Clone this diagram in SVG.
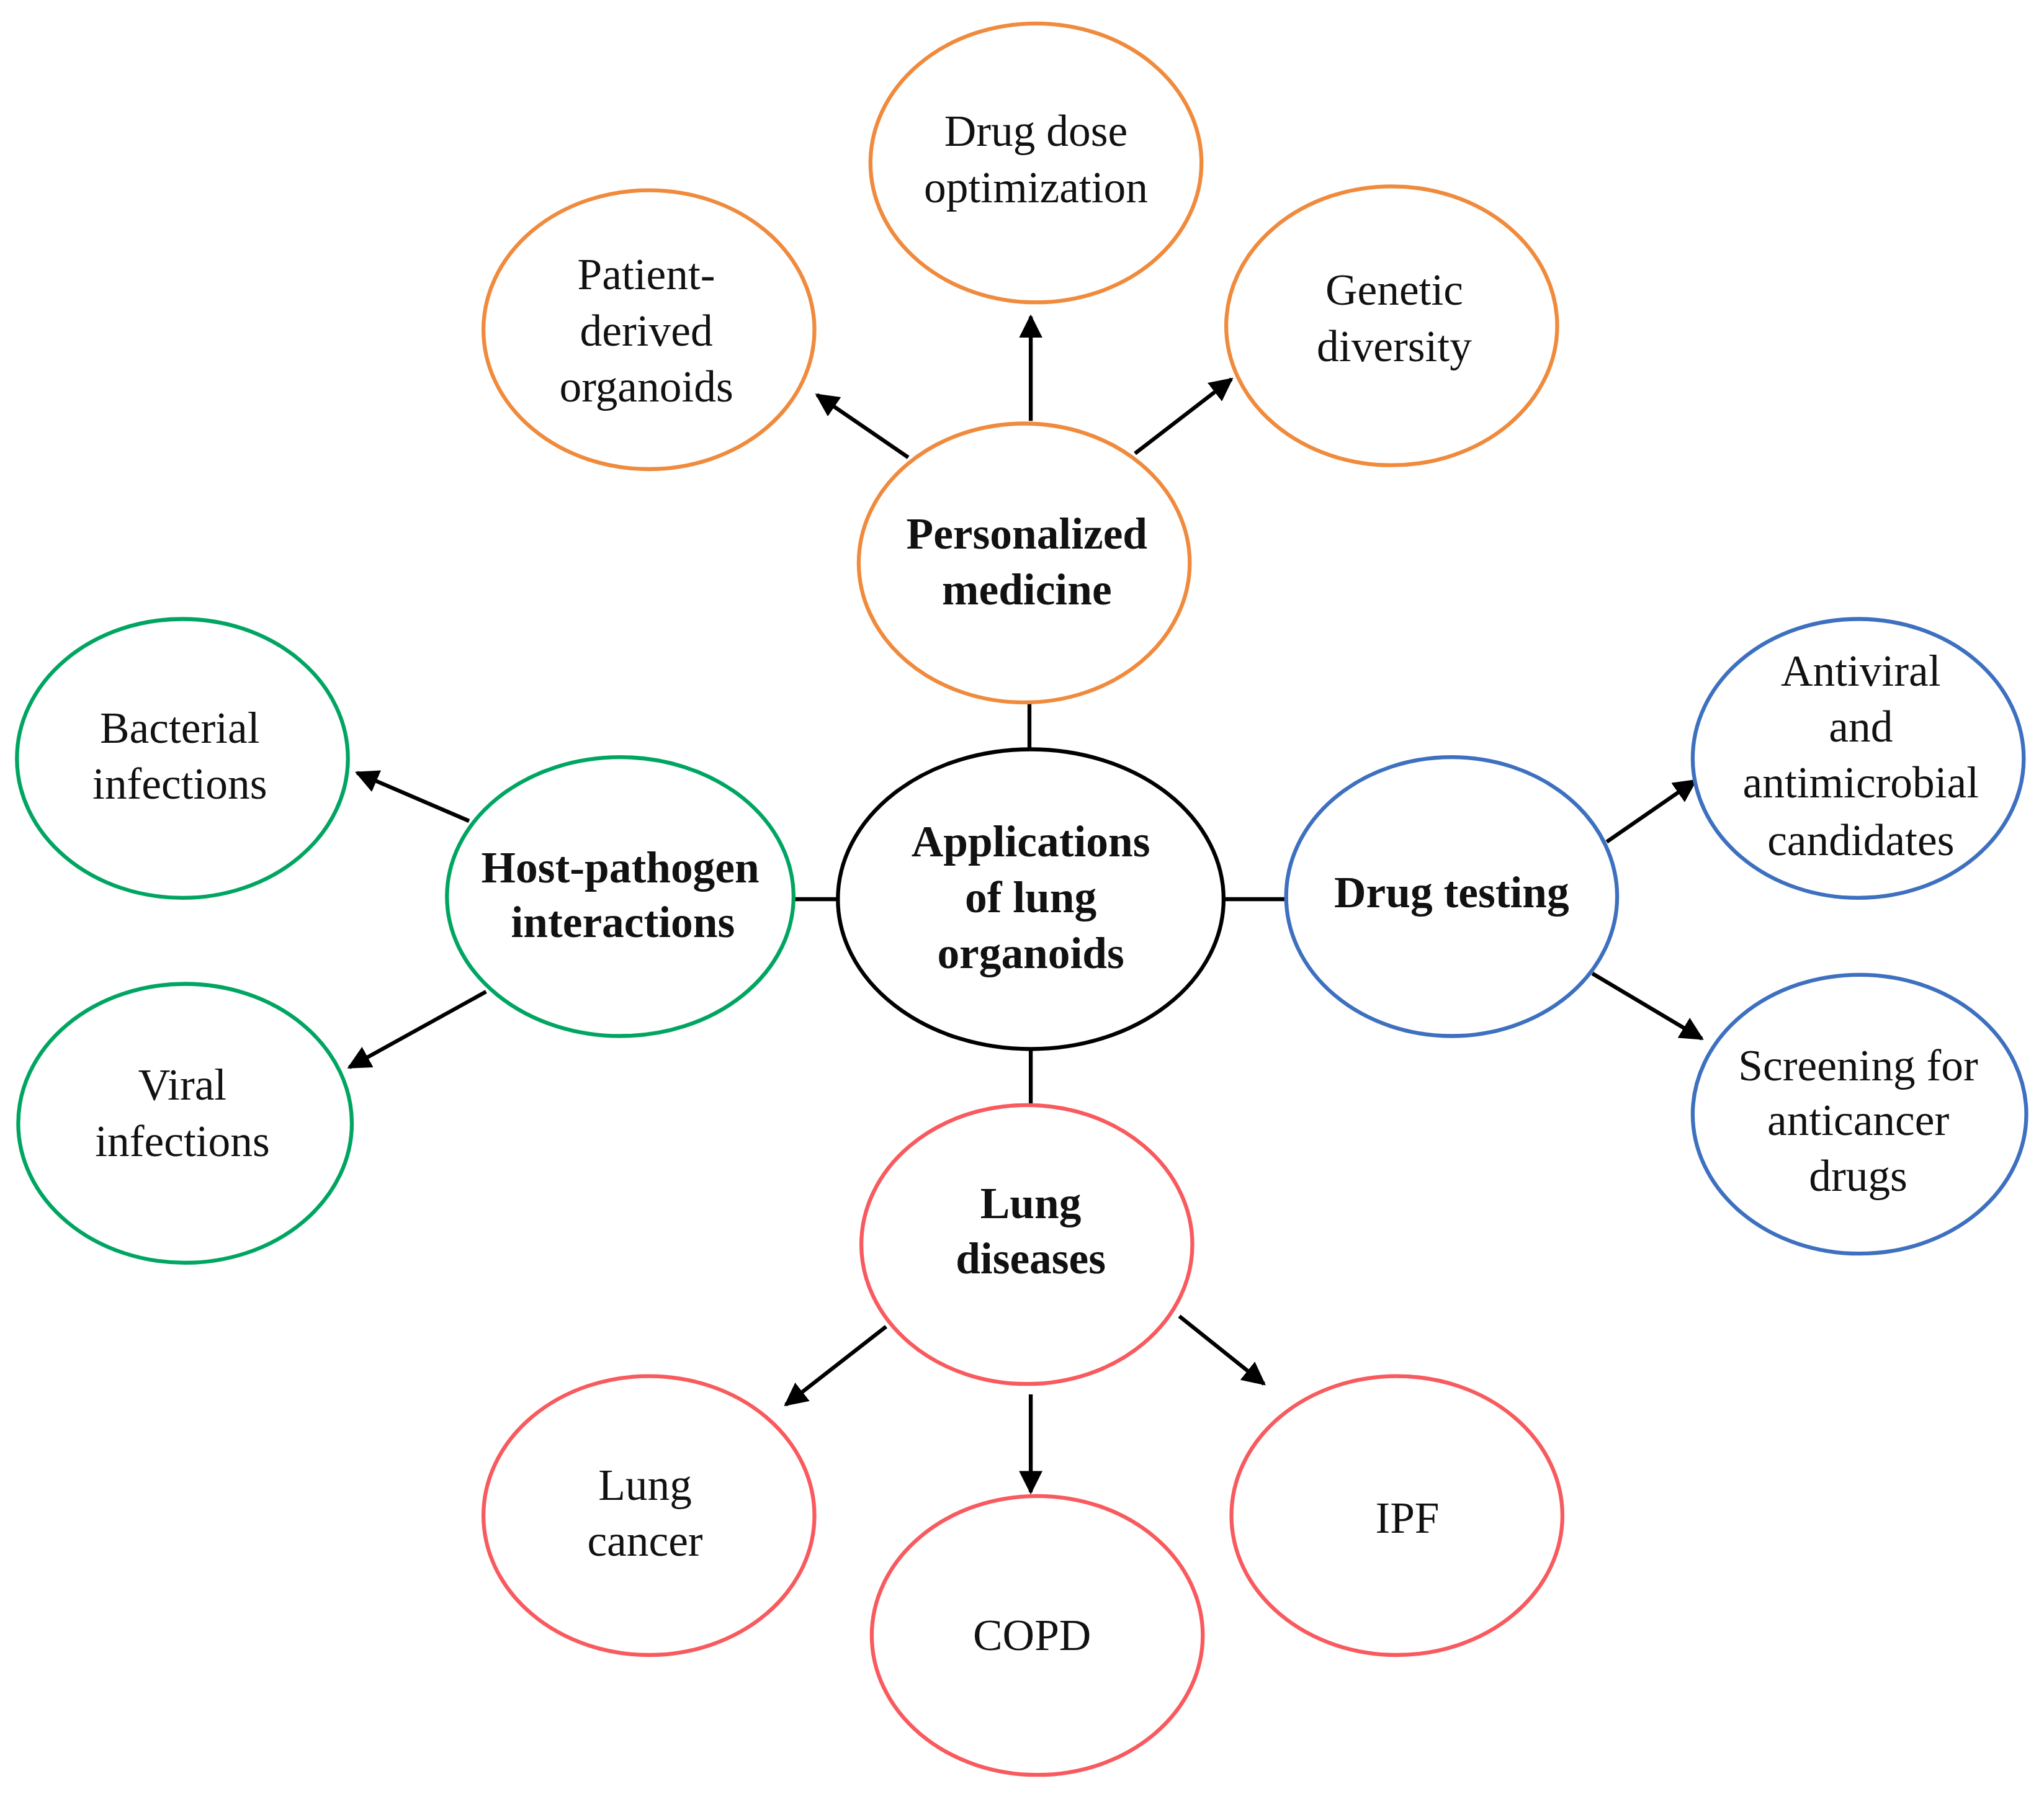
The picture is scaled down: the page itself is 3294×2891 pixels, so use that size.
<svg xmlns="http://www.w3.org/2000/svg" width="3294" height="2891" viewBox="0 0 3294 2891">
<style>
text{font-family:"Liberation Serif","DejaVu Serif",serif;font-size:34px;fill:#111;text-anchor:middle}
.b{font-weight:bold}
ellipse{fill:#fff;stroke-width:3}
.o{stroke:#F08A3C}.g{stroke:#00A562}.bl{stroke:#3E70C0}.r{stroke:#F85A5E}.k{stroke:#000}
line{stroke:#000;stroke-width:3}
</style>
<defs><marker id="a" viewBox="0 0 10 10" refX="9" refY="5" markerWidth="6" markerHeight="6" orient="auto"><path d="M0,0L10,5L0,10z" fill="#000"/></marker></defs>
<rect width="3294" height="2891" fill="#fff"/>
<g transform="scale(2.1)">
<g id="connectors">
<line x1="790" y1="575" x2="790" y2="540"/>
<line x1="643" y1="690" x2="610" y2="690"/>
<line x1="940" y1="690" x2="987" y2="690"/>
<line x1="791" y1="806" x2="791" y2="848"/>
<line x1="697" y1="351" x2="627" y2="303" marker-end="url(#a)"/>
<line x1="791" y1="323" x2="791" y2="243" marker-end="url(#a)"/>
<line x1="871" y1="348" x2="945" y2="291" marker-end="url(#a)"/>
<line x1="360" y1="630" x2="274" y2="593" marker-end="url(#a)"/>
<line x1="373" y1="761" x2="268" y2="819" marker-end="url(#a)"/>
<line x1="1233" y1="646" x2="1301" y2="599" marker-end="url(#a)"/>
<line x1="1222" y1="747" x2="1306" y2="797" marker-end="url(#a)"/>
<line x1="680" y1="1018" x2="603" y2="1078" marker-end="url(#a)"/>
<line x1="791" y1="1070" x2="791" y2="1145" marker-end="url(#a)"/>
<line x1="905" y1="1010" x2="970" y2="1062" marker-end="url(#a)"/>
</g>
<g id="center"><ellipse class="k" cx="791" cy="690" rx="148" ry="115"/><text class="b" x="791" y="657">Applications</text><text class="b" x="791" y="700">of lung</text><text class="b" x="791" y="743">organoids</text></g>
<g id="pm"><ellipse class="o" cx="786" cy="432" rx="127" ry="107"/><text class="b" x="788" y="421">Personalized</text><text class="b" x="788" y="464">medicine</text></g>
<g id="dose"><ellipse class="o" cx="795" cy="125" rx="127" ry="107"/><text x="795" y="112">Drug dose</text><text x="795" y="155">optimization</text></g>
<g id="patient"><ellipse class="o" cx="498" cy="253" rx="127" ry="107"/><text x="496" y="222">Patient-</text><text x="496" y="265">derived</text><text x="496" y="308">organoids</text></g>
<g id="genetic"><ellipse class="o" cx="1068" cy="250" rx="127" ry="107"/><text x="1070" y="234">Genetic</text><text x="1070" y="277">diversity</text></g>
<g id="host"><ellipse class="g" cx="476" cy="688" rx="133" ry="107"/><text class="b" x="476" y="677">Host-pathogen</text><text class="b" x="478" y="719">interactions</text></g>
<g id="bact"><ellipse class="g" cx="140" cy="582" rx="127" ry="107"/><text x="138" y="570">Bacterial</text><text x="138" y="613">infections</text></g>
<g id="viral"><ellipse class="g" cx="142" cy="862" rx="128" ry="107"/><text x="140" y="844">Viral</text><text x="140" y="887">infections</text></g>
<g id="dt"><ellipse class="bl" cx="1114" cy="688" rx="127" ry="107"/><text class="b" x="1114" y="696">Drug testing</text></g>
<g id="antiviral"><ellipse class="bl" cx="1426" cy="582" rx="127" ry="107"/><text x="1428" y="526">Antiviral</text><text x="1428" y="569">and</text><text x="1428" y="612">antimicrobial</text><text x="1428" y="656">candidates</text></g>
<g id="screen"><ellipse class="bl" cx="1427" cy="855" rx="128" ry="107"/><text x="1426" y="829">Screening  for</text><text x="1426" y="871">anticancer</text><text x="1426" y="914">drugs</text></g>
<g id="ld"><ellipse class="r" cx="788" cy="955" rx="127" ry="107"/><text class="b" x="791" y="935">Lung</text><text class="b" x="791" y="977">diseases</text></g>
<g id="cancer"><ellipse class="r" cx="498" cy="1163" rx="127" ry="107"/><text x="495" y="1151">Lung</text><text x="495" y="1194">cancer</text></g>
<g id="copd"><ellipse class="r" cx="796" cy="1255" rx="127" ry="107"/><text x="792" y="1266">COPD</text></g>
<g id="ipf"><ellipse class="r" cx="1072" cy="1163" rx="127" ry="107"/><text x="1080" y="1176">IPF</text></g>
</g>
</svg>
